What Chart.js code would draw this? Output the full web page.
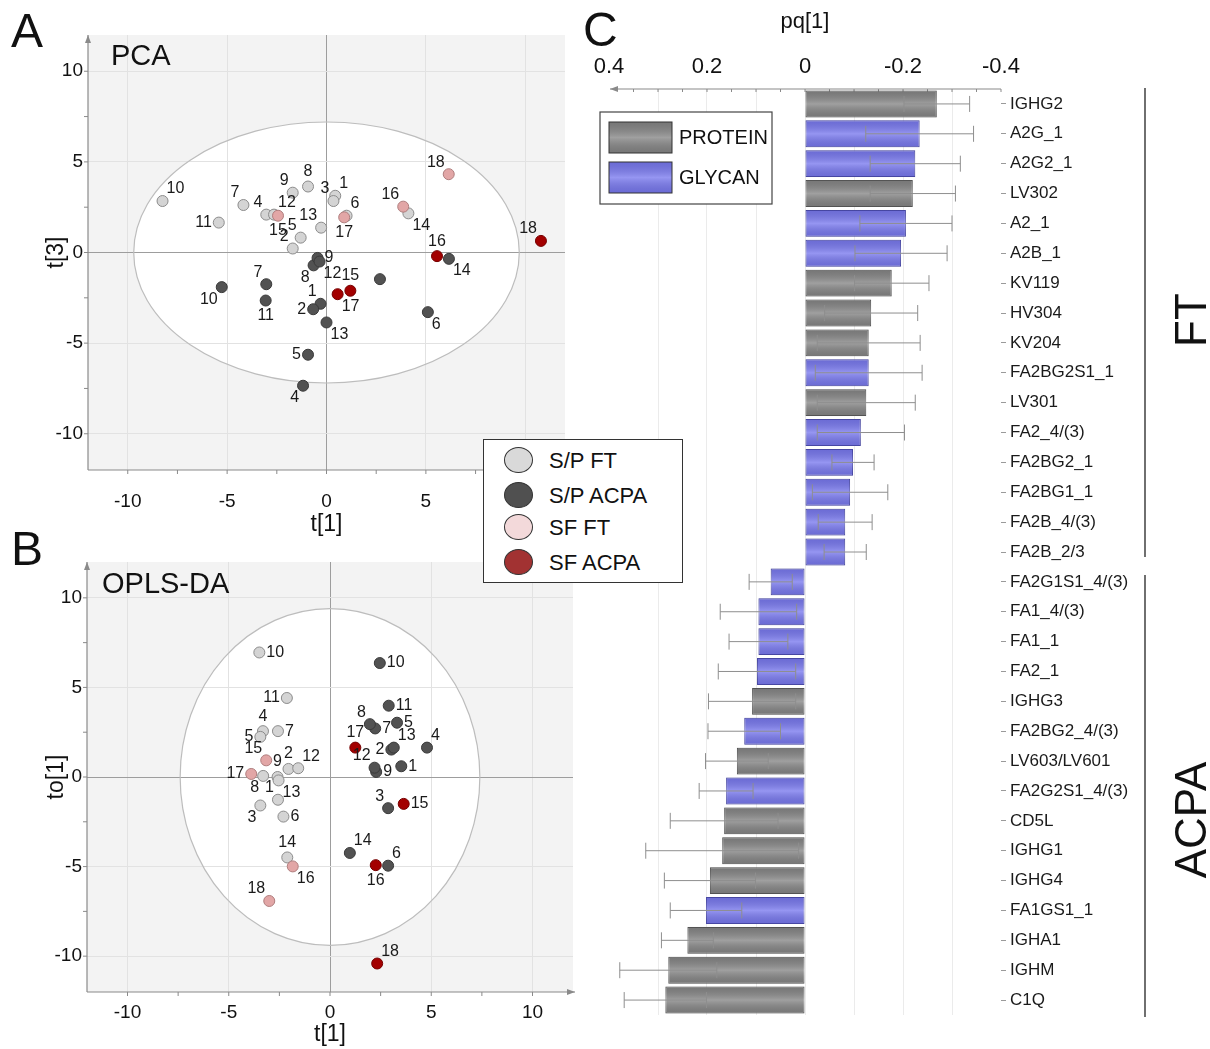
<!DOCTYPE html>
<html>
<head>
<meta charset="utf-8">
<script src="https://cdn.jsdelivr.net/npm/chart.js@4.4.1/dist/chart.umd.min.js"></script>
<style>
  body { margin: 0; background: #fff; width: 1210px; height: 1049px; overflow: hidden; position: relative;
         font-family: "Liberation Sans", Arial, sans-serif; color: #111; }
  canvas { position: absolute; }
  #chartA { left: 0; top: 0; }
  #chartB { left: 0; top: 540px; }
  #chartC { left: 590px; top: 0; }
  .letter { position: absolute; font-size: 48px; line-height: 1; }
  #legAB { position: absolute; left: 483px; top: 439px; width: 198px; height: 142px; border: 1.5px solid #333; background: #fff; }
  #legAB .row { position: absolute; left: 0; height: 28px; line-height: 28px; font-size: 22px; }
  #legAB .dot { position: absolute; left: 20px; top: 0; width: 29px; height: 26px; border-radius: 50%; border: 1.5px solid #333; box-sizing: border-box; }
  #legAB .txt { position: absolute; left: 65px; top: 0; white-space: nowrap; }
</style>
</head>
<body>
<canvas id="chartA" width="590" height="540"></canvas>
<canvas id="chartB" width="590" height="509"></canvas>
<canvas id="chartC" width="620" height="1049"></canvas>
<div class="letter" style="left:11px;top:7px">A</div>
<div class="letter" style="left:11px;top:525px">B</div>
<div class="letter" style="left:583px;top:6px">C</div>
<div id="legAB">
  <div class="row" style="top:7px"><span class="dot" style="background:#d9d9d9"></span><span class="txt">S/P FT</span></div>
  <div class="row" style="top:42px"><span class="dot" style="background:#505050"></span><span class="txt">S/P ACPA</span></div>
  <div class="row" style="top:74px"><span class="dot" style="background:#f3d9da"></span><span class="txt">SF FT</span></div>
  <div class="row" style="top:109px"><span class="dot" style="background:#a23232"></span><span class="txt">SF ACPA</span></div>
</div>
<script>
// ---- A: PCA scores, [sample, t[1], t[3]] ----
const pcaSpFt = [[1, 0.44, 3.13], [2, -1.70, 0.22], [3, 0.35, 2.84], [4, -3.03, 2.09], [5, -1.30, 0.82],
  [6, 1.01, 2.03], [7, -4.18, 2.62], [8, -0.93, 3.64], [9, -1.70, 3.30], [10, -8.25, 2.84],
  [11, -5.42, 1.65], [12, -2.64, 2.09], [13, -0.27, 1.37], [14, 4.12, 2.16]];
const pcaSpAcpa = [[1, -0.30, -2.83], [2, -0.67, -3.13], [3, 2.69, -1.47], [4, -1.18, -7.35], [5, -0.93, -5.64],
  [6, 5.10, -3.29], [7, -3.03, -1.75], [8, -0.65, -0.71], [9, -0.45, -0.30], [10, -5.27, -1.91],
  [11, -3.06, -2.65], [12, -0.35, -0.50], [13, 0.0, -3.86], [14, 6.16, -0.35]];
const pcaSfFt = [[15, -2.44, 2.03], [16, 3.86, 2.53], [17, 0.89, 1.94], [18, 6.15, 4.32]];
const pcaSfAcpa = [[15, 1.20, -2.11], [16, 5.56, -0.20], [17, 0.56, -2.30], [18, 10.79, 0.64]];

// ---- B: OPLS-DA scores, [sample, t[1], to[1]] ----
const oplsSpFt = [[1, -2.57, -1.27], [2, -2.05, 0.45], [3, -3.44, -1.59], [4, -3.31, 2.56], [5, -3.44, 2.24],
  [6, -2.30, -2.21], [7, -2.57, 2.56], [8, -3.30, 0.06], [9, -2.59, 0.0], [10, -3.49, 6.95],
  [11, -2.13, 4.41], [12, -1.57, 0.49], [13, -2.54, -0.19], [14, -2.11, -4.49]];
const oplsSpAcpa = [[1, 3.52, 0.60], [2, 3.03, 1.53], [3, 2.87, -1.74], [4, 4.79, 1.64], [5, 3.31, 3.03],
  [6, 2.87, -4.95], [7, 2.23, 2.71], [8, 1.97, 2.95], [9, 2.28, 0.28], [10, 2.46, 6.36],
  [11, 2.90, 3.98], [12, 2.20, 0.52], [13, 3.15, 1.64], [14, 0.98, -4.24]];
const oplsSfFt = [[15, -3.15, 0.93], [16, -1.84, -4.99], [17, -3.89, 0.17], [18, -3.0, -6.92]];
const oplsSfAcpa = [[15, 3.64, -1.50], [16, 2.26, -4.92], [17, 1.25, 1.64], [18, 2.33, -10.41]];

const scoreTicks = [-10, -5, 0, 5, 10];

// ---- C: loadings pq[1] with confidence intervals ----
const variables = ['IGHG2', 'A2G_1', 'A2G2_1', 'LV302', 'A2_1', 'A2B_1', 'KV119', 'HV304', 'KV204',
  'FA2BG2S1_1', 'LV301', 'FA2_4/(3)', 'FA2BG2_1', 'FA2BG1_1', 'FA2B_4/(3)', 'FA2B_2/3',
  'FA2G1S1_4/(3)', 'FA1_4/(3)', 'FA1_1', 'FA2_1', 'IGHG3', 'FA2BG2_4/(3)', 'LV603/LV601',
  'FA2G2S1_4/(3)', 'CD5L', 'IGHG1', 'IGHG4', 'FA1GS1_1', 'IGHA1', 'IGHM', 'C1Q'];
const varTypes = ['P', 'G', 'G', 'P', 'G', 'G', 'P', 'P', 'P', 'G', 'P', 'G', 'G', 'G', 'G', 'G',
  'G', 'G', 'G', 'G', 'P', 'G', 'P', 'G', 'P', 'P', 'P', 'G', 'P', 'P', 'P'];
const pqValues = [-0.269, -0.234, -0.225, -0.220, -0.206, -0.196, -0.177, -0.135, -0.130, -0.130,
  -0.125, -0.114, -0.098, -0.092, -0.082, -0.082, 0.070, 0.095, 0.095, 0.098, 0.108, 0.124,
  0.139, 0.161, 0.165, 0.169, 0.194, 0.202, 0.240, 0.279, 0.285];
const pqErrors = [0.067, 0.110, 0.092, 0.087, 0.094, 0.094, 0.076, 0.095, 0.105, 0.109, 0.100,
  0.089, 0.043, 0.077, 0.055, 0.043, 0.044, 0.078, 0.060, 0.079, 0.089, 0.074, 0.064, 0.055,
  0.110, 0.156, 0.093, 0.073, 0.053, 0.099, 0.084];
const pqTicks = [-0.4, -0.3, -0.2, -0.1, 0, 0.1, 0.2, 0.3, 0.4];
const groupNames = ['FT', 'ACPA'];
const groupSizes = [16, 15];

const FONT = '"Liberation Sans", Arial, sans-serif';
const typeStyle = {
  P: { fill: '#858585', edge: '#5c5c5c', name: 'PROTEIN' },
  G: { fill: '#7878ee', edge: '#4e4eb4', name: 'GLYCAN' }
};

// label placement around a point: dx, dy, align, baseline
const sideOff = {
  e: [7, 0, 'left', 'middle'], w: [-7, 0, 'right', 'middle'],
  n: [0, -7, 'center', 'bottom'], s: [0, 7, 'center', 'top'],
  ne: [4, -4, 'left', 'bottom'], nw: [-4, -4, 'right', 'bottom'],
  se: [4, 4, 'left', 'top'], sw: [-4, 4, 'right', 'top']
};

function arrowLine(ctx, x1, y1, x2, y2) {
  ctx.beginPath(); ctx.moveTo(x1, y1); ctx.lineTo(x2, y2); ctx.stroke();
  const ang = Math.atan2(y2 - y1, x2 - x1);
  ctx.beginPath();
  ctx.moveTo(x2, y2);
  ctx.lineTo(x2 - 8 * Math.cos(ang) + 3 * Math.sin(ang), y2 - 8 * Math.sin(ang) - 3 * Math.cos(ang));
  ctx.lineTo(x2 - 8 * Math.cos(ang) - 3 * Math.sin(ang), y2 - 8 * Math.sin(ang) + 3 * Math.cos(ang));
  ctx.closePath(); ctx.fill();
}

// background, confidence ellipse, axes and point labels of the score plots
const scoreDeco = {
  id: 'scoreDeco',
  beforeDraw(chart, args, o) {
    const { ctx, chartArea: a, scales: { x, y } } = chart;
    ctx.save();
    ctx.fillStyle = '#f3f3f3';
    ctx.fillRect(a.left, a.top, a.right - a.left, a.bottom - a.top);
    const cx = x.getPixelForValue(0), cy = y.getPixelForValue(0);
    ctx.beginPath();
    ctx.ellipse(cx, cy, Math.abs(x.getPixelForValue(o.ellipse[0]) - cx), Math.abs(y.getPixelForValue(o.ellipse[1]) - cy), 0, 0, Math.PI * 2);
    ctx.fillStyle = '#fff';
    ctx.fill();
    ctx.restore();
  },
  beforeDatasetsDraw(chart, args, o) {
    const { ctx, chartArea: a, scales: { x, y } } = chart;
    ctx.save();
    const cx = x.getPixelForValue(0), cy = y.getPixelForValue(0);
    ctx.beginPath();
    ctx.ellipse(cx, cy, Math.abs(x.getPixelForValue(o.ellipse[0]) - cx), Math.abs(y.getPixelForValue(o.ellipse[1]) - cy), 0, 0, Math.PI * 2);
    ctx.strokeStyle = '#bdbdbd'; ctx.lineWidth = 1.2; ctx.stroke();

    ctx.strokeStyle = '#8a8a8a'; ctx.fillStyle = '#8a8a8a'; ctx.lineWidth = 1.2;
    arrowLine(ctx, a.left, a.bottom, a.left, a.top);
    arrowLine(ctx, a.left, a.bottom, a.right + 2, a.bottom);
    ctx.lineWidth = 1;
    for (let v = -10; v <= 10; v += 2.5) {
      const px = x.getPixelForValue(v), py = y.getPixelForValue(v);
      ctx.beginPath(); ctx.moveTo(px, a.bottom); ctx.lineTo(px, a.bottom + 4); ctx.stroke();
      ctx.beginPath(); ctx.moveTo(a.left, py); ctx.lineTo(a.left - 4, py); ctx.stroke();
    }

    ctx.fillStyle = '#111';
    ctx.font = '29px ' + FONT;
    ctx.textAlign = 'left'; ctx.textBaseline = 'alphabetic';
    ctx.fillText(o.title, a.left + o.titleDx, a.top + o.titleDy);
    ctx.font = '23px ' + FONT;
    ctx.textAlign = 'center'; ctx.textBaseline = 'middle';
    ctx.fillText(o.xTitle, (a.left + a.right) / 2, a.bottom + o.xTitleDy);
    ctx.translate(o.yTitleX, (a.top + a.bottom) / 2);
    ctx.rotate(-Math.PI / 2);
    ctx.fillText(o.yTitle, 0, 0);
    ctx.restore();
  },
  afterDatasetsDraw(chart) {
    const ctx = chart.ctx;
    ctx.save();
    ctx.font = '16px ' + FONT;
    ctx.fillStyle = '#1a1a1a';
    chart.data.datasets.forEach((ds, di) => {
      const meta = chart.getDatasetMeta(di);
      meta.data.forEach((pt, i) => {
        const off = sideOff[ds.sides[i]];
        if (!off) return;
        ctx.textAlign = off[2]; ctx.textBaseline = off[3];
        ctx.fillText(String(ds.data[i].id), pt.x + off[0], pt.y + off[1]);
      });
    });
    ctx.restore();
  }
};

function scoreDatasets(groups) {
  return groups.map(g => ({
    label: g.name,
    data: g.points.map(p => ({ x: p[1], y: p[2], id: p[0] })),
    sides: g.sides.split(' '),
    backgroundColor: g.fill,
    borderColor: g.edge,
    borderWidth: 1,
    pointRadius: 5.5,
    order: g.order
  }));
}

function scoreChart(id, groups, deco, geom) {
  const tickFont = { family: FONT, size: 19 };
  const gridColor = c => (c.tick && c.tick.value === 0) ? '#9d9d9d' : '#e2e2e2';
  return new Chart(document.getElementById(id), {
    type: 'scatter',
    data: { datasets: scoreDatasets(groups) },
    options: {
      responsive: false,
      animation: false,
      layout: { padding: { top: geom.top, right: geom.right, left: 0, bottom: 0 } },
      plugins: { legend: { display: false }, tooltip: { enabled: false }, scoreDeco: deco },
      scales: {
        x: {
          type: 'linear', min: -12, max: 12,
          afterBuildTicks: s => { s.ticks = scoreTicks.map(v => ({ value: v })); },
          afterFit: s => { s.height = geom.xh; },
          grid: { color: gridColor, drawTicks: false },
          border: { display: false },
          ticks: { font: tickFont, color: '#111', padding: geom.xpad, maxRotation: 0 }
        },
        y: {
          type: 'linear', min: -12, max: 12,
          afterBuildTicks: s => { s.ticks = scoreTicks.map(v => ({ value: v })); },
          afterFit: s => { s.width = geom.yw; },
          grid: { color: gridColor, drawTicks: false },
          border: { display: false },
          ticks: { font: tickFont, color: '#111', padding: 5 }
        }
      }
    },
    plugins: [scoreDeco]
  });
}

const spFtStyle = { fill: '#d4d4d4', edge: '#8c8c8c', order: 2 };
const spAcpaStyle = { fill: '#525252', edge: '#3a3a3a', order: 2 };
const sfFtStyle = { fill: '#e2a6a6', edge: '#b07e7e', order: 1 };
const sfAcpaStyle = { fill: '#a30000', edge: '#760000', order: 1 };

scoreChart('chartA', [
  Object.assign({ name: 'S/P FT', points: pcaSpFt, sides: 'ne nw nw nw nw ne nw n nw ne w ne nw se' }, spFtStyle),
  Object.assign({ name: 'S/P ACPA', points: pcaSpAcpa, sides: 'nw w none sw w se nw sw e sw s se se se' }, spAcpaStyle),
  Object.assign({ name: 'SF FT', points: pcaSfFt, sides: 's nw s nw' }, sfFtStyle),
  Object.assign({ name: 'SF ACPA', points: pcaSfAcpa, sides: 'n n se nw' }, sfAcpaStyle)
], { ellipse: [9.7, 7.2], title: 'PCA', titleDx: 23, titleDy: 30, xTitle: 't[1]', xTitleDy: 55, yTitle: 't[3]', yTitleX: 57 },
   { top: 35, right: 25, xh: 70, yw: 88, xpad: 20 });

scoreChart('chartB', [
  Object.assign({ name: 'S/P FT', points: oplsSpFt, sides: 'nw n sw n w e e sw n e w ne se n' }, spFtStyle),
  Object.assign({ name: 'S/P ACPA', points: oplsSpAcpa, sides: 'e w nw ne e ne e nw e e e nw ne ne' }, spAcpaStyle),
  Object.assign({ name: 'SF FT', points: oplsSfFt, sides: 'nw se w nw' }, sfFtStyle),
  Object.assign({ name: 'SF ACPA', points: oplsSfAcpa, sides: 'e s n ne' }, sfAcpaStyle)
], { ellipse: [7.4, 9.4], title: 'OPLS-DA', titleDx: 15, titleDy: 31, xTitle: 't[1]', xTitleDy: 43, yTitle: 'to[1]', yTitleX: 57 },
   { top: 22, right: 17, xh: 57, yw: 87, xpad: 9 });

// ---- C: bar decorations ----
const loadDeco = {
  id: 'loadDeco',
  beforeDatasetsDraw(chart) {
    const { ctx, chartArea: a, scales: { x } } = chart;
    ctx.save();
    ctx.strokeStyle = '#8a8a8a'; ctx.fillStyle = '#8a8a8a'; ctx.lineWidth = 1.2;
    arrowLine(ctx, a.right, a.top, a.left + 1, a.top);
    ctx.lineWidth = 1;
    for (let v = -0.4; v <= 0.351; v += 0.05) {
      const px = x.getPixelForValue(v);
      ctx.beginPath(); ctx.moveTo(px, a.top); ctx.lineTo(px, a.top + 3); ctx.stroke();
    }
    ctx.restore();
  },
  afterDatasetsDraw(chart) {
    const { ctx, scales: { x } } = chart;
    const meta = chart.getDatasetMeta(0);
    ctx.save();
    meta.data.forEach((bar, i) => {
      const p = bar.getProps(['x', 'y', 'base', 'height'], true);
      const top = p.y - p.height / 2;
      const g = ctx.createLinearGradient(0, top, 0, top + p.height);
      g.addColorStop(0, 'rgba(0,0,0,0.10)');
      g.addColorStop(0.5, 'rgba(255,255,255,0.22)');
      g.addColorStop(1, 'rgba(0,0,0,0.10)');
      ctx.fillStyle = g;
      ctx.fillRect(Math.min(p.x, p.base), top, Math.abs(p.x - p.base), p.height);

      const lo = x.getPixelForValue(pqValues[i] - pqErrors[i]);
      const hi = x.getPixelForValue(pqValues[i] + pqErrors[i]);
      ctx.strokeStyle = '#8e8e8e'; ctx.lineWidth = 1;
      ctx.beginPath();
      ctx.moveTo(lo, p.y); ctx.lineTo(hi, p.y);
      ctx.moveTo(lo, p.y - 8); ctx.lineTo(lo, p.y + 8);
      ctx.moveTo(hi, p.y - 8); ctx.lineTo(hi, p.y + 8);
      ctx.stroke();
    });
    ctx.restore();
  },
  afterDraw(chart) {
    const { ctx, chartArea: a, scales: { x, y } } = chart;
    ctx.save();
    ctx.fillStyle = '#111';
    ctx.font = '22px ' + FONT;
    ctx.textAlign = 'center'; ctx.textBaseline = 'middle';
    ctx.fillText('pq[1]', x.getPixelForValue(0), 22);

    // legend
    ctx.fillStyle = '#fff'; ctx.strokeStyle = '#444'; ctx.lineWidth = 1.2;
    ctx.fillRect(10, 112, 172, 92); ctx.strokeRect(10, 112, 172, 92);
    ['P', 'G'].forEach((t, k) => {
      const sy = 122 + k * 40;
      const g = ctx.createLinearGradient(0, sy, 0, sy + 31);
      const st = typeStyle[t];
      ctx.fillStyle = st.fill; ctx.fillRect(19, sy, 63, 31);
      g.addColorStop(0, 'rgba(0,0,0,0.10)'); g.addColorStop(0.5, 'rgba(255,255,255,0.22)'); g.addColorStop(1, 'rgba(0,0,0,0.10)');
      ctx.fillStyle = g; ctx.fillRect(19, sy, 63, 31);
      ctx.strokeStyle = '#333'; ctx.lineWidth = 1; ctx.strokeRect(19, sy, 63, 31);
      ctx.fillStyle = '#111'; ctx.font = '20px ' + FONT;
      ctx.textAlign = 'left'; ctx.textBaseline = 'middle';
      ctx.fillText(st.name, 89, sy + 16);
    });

    // group brackets
    const step = y.getPixelForValue(1) - y.getPixelForValue(0);
    let start = 0;
    ctx.strokeStyle = '#222'; ctx.lineWidth = 1.3;
    groupNames.forEach((name, k) => {
      const end = start + groupSizes[k] - 1;
      const y1 = k === 0 ? a.top - 1 : y.getPixelForValue(start) - step / 2 + 8;
      const y2 = k === groupNames.length - 1 ? a.bottom + 2 : y.getPixelForValue(end) + step / 2 - 10;
      ctx.beginPath(); ctx.moveTo(555, y1); ctx.lineTo(555, y2); ctx.stroke();
      ctx.save();
      ctx.fillStyle = '#111'; ctx.font = '44px ' + FONT;
      ctx.textAlign = 'center'; ctx.textBaseline = 'middle';
      ctx.translate(604, k === 0 ? 320 : 820);
      ctx.rotate(-Math.PI / 2);
      ctx.fillText(name, 0, 0);
      ctx.restore();
      start = end + 1;
    });
    ctx.restore();
  }
};

new Chart(document.getElementById('chartC'), {
  type: 'bar',
  data: {
    labels: variables,
    datasets: [{
      data: pqValues,
      backgroundColor: varTypes.map(t => typeStyle[t].fill),
      borderColor: varTypes.map(t => typeStyle[t].edge),
      borderWidth: 1,
      borderSkipped: false,
      barPercentage: 0.9,
      categoryPercentage: 1.0
    }]
  },
  options: {
    indexAxis: 'y',
    responsive: false,
    animation: false,
    layout: { padding: { top: 0, left: 19, right: 0, bottom: 34 } },
    plugins: { legend: { display: false }, tooltip: { enabled: false } },
    scales: {
      x: {
        type: 'linear', position: 'top', reverse: true, min: -0.4, max: 0.4,
        afterBuildTicks: s => { s.ticks = pqTicks.map(v => ({ value: v })); },
        afterFit: s => { s.height = 89; },
        grid: { color: c => (c.tick && Math.abs(c.tick.value) > 0.35) ? 'rgba(0,0,0,0)' : '#ebebeb', drawTicks: false },
        border: { display: false },
        ticks: {
          font: { family: FONT, size: 22 }, color: '#111', padding: 9, maxRotation: 0,
          callback: v => {
            const r = Math.round(v * 10);
            if (r % 2 !== 0) return '';
            return r === 0 ? '0' : (r / 10).toFixed(1);
          }
        }
      },
      y: {
        type: 'category', position: 'right',
        afterFit: s => { s.width = 209; },
        grid: { offset: false, drawOnChartArea: false, drawTicks: true, tickLength: 5, color: '#9a9a9a' },
        border: { display: false },
        ticks: { font: { family: FONT, size: 17 }, color: '#1a1a1a', padding: 4, autoSkip: false }
      }
    }
  },
  plugins: [loadDeco]
});
</script>
</body>
</html>
